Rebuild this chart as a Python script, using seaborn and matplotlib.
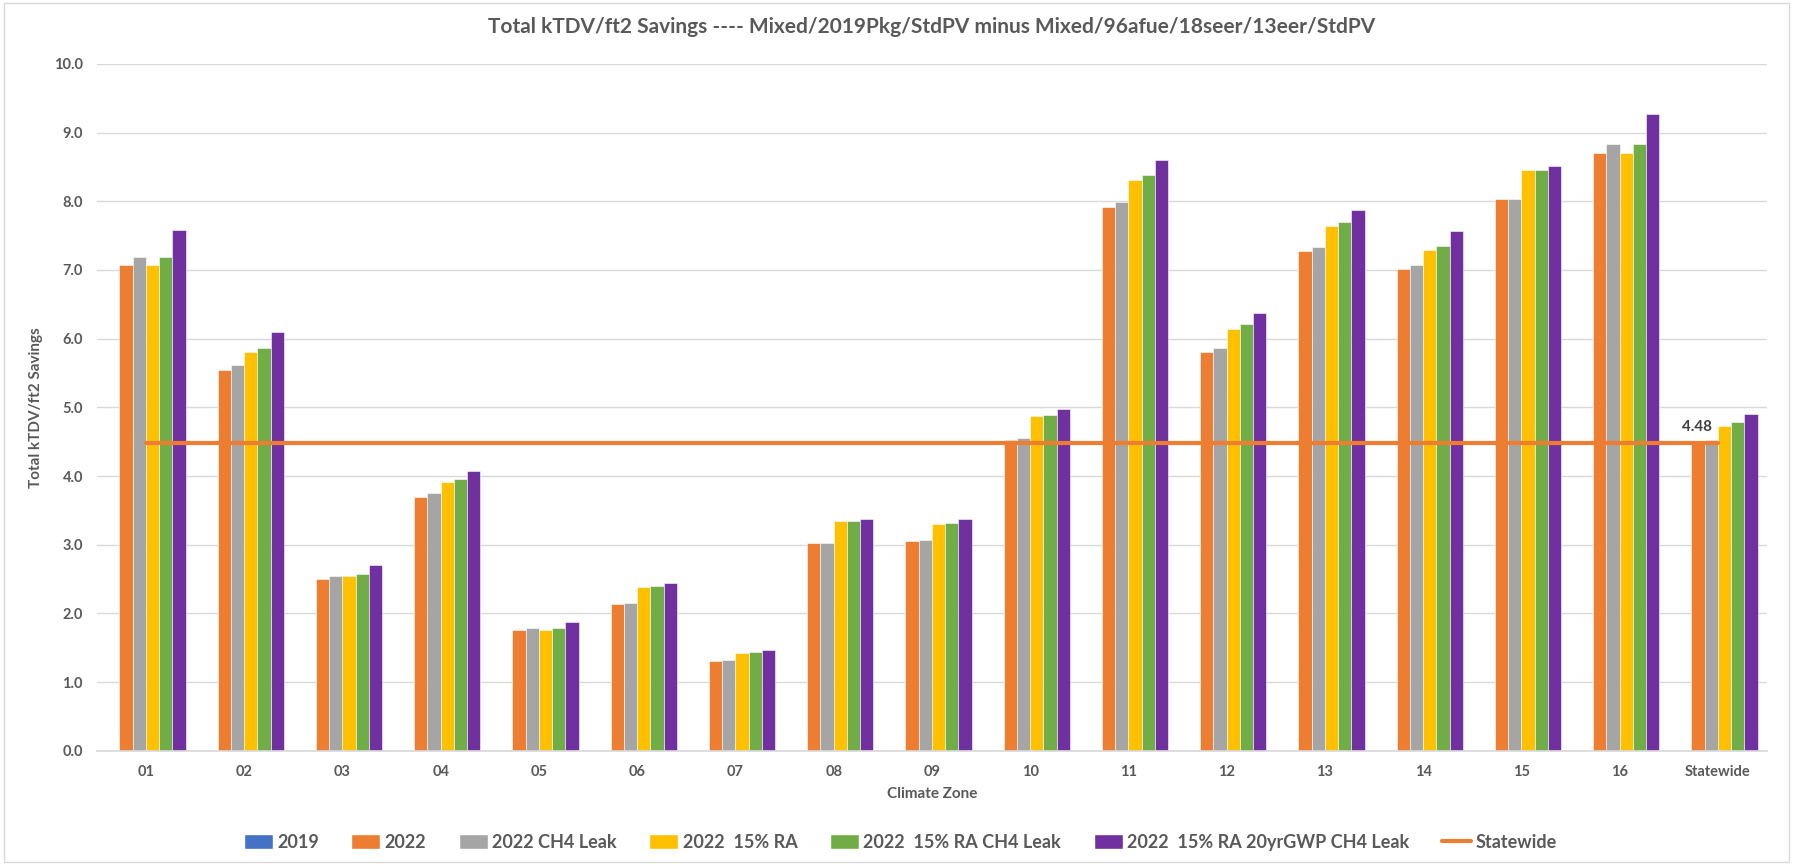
import numpy as np
import pandas as pd
import matplotlib
matplotlib.use("Agg")
import matplotlib.pyplot as plt
import seaborn as sns
from matplotlib.patches import Patch
from matplotlib.lines import Line2D

# ---------------- data ----------------
zones = ["01", "02", "03", "04", "05", "06", "07", "08", "09",
         "10", "11", "12", "13", "14", "15", "16", "Statewide"]

v_2019 = [0.0] * 17
v_2022 = [7.08, 5.55, 2.50, 3.70, 1.76, 2.14, 1.31, 3.02, 3.05,
          4.53, 7.92, 5.80, 7.28, 7.02, 8.03, 8.70, 4.48]
v_2022_ch4 = [7.19, 5.62, 2.54, 3.75, 1.79, 2.15, 1.32, 3.03, 3.07,
              4.55, 7.99, 5.86, 7.33, 7.08, 8.03, 8.83, 4.52]
v_2022_ra = [7.08, 5.80, 2.54, 3.92, 1.76, 2.39, 1.43, 3.34, 3.30,
             4.87, 8.31, 6.14, 7.64, 7.29, 8.46, 8.70, 4.73]
v_2022_ra_ch4 = [7.19, 5.87, 2.57, 3.96, 1.79, 2.40, 1.44, 3.35, 3.32,
                 4.89, 8.39, 6.21, 7.70, 7.35, 8.46, 8.83, 4.78]
v_2022_ra_gwp = [7.58, 6.10, 2.70, 4.07, 1.88, 2.45, 1.47, 3.38, 3.37,
                 4.98, 8.60, 6.38, 7.87, 7.57, 8.52, 9.27, 4.90]
statewide = 4.48

series_names = ["2019", "2022", "2022 CH4 Leak", "2022  15% RA",
                "2022  15% RA CH4 Leak", "2022  15% RA 20yrGWP CH4 Leak"]
series_values = [v_2019, v_2022, v_2022_ch4, v_2022_ra, v_2022_ra_ch4, v_2022_ra_gwp]
colors = ["#4472C4", "#ED7D31", "#A5A5A5", "#FFC000", "#70AD47", "#7030A0"]

df = pd.DataFrame([
    {"zone": z, "series": name, "value": val}
    for name, vals in zip(series_names, series_values)
    for z, val in zip(zones, vals)
])

# ---------------- plot ----------------
sns.set_theme(style="white")
plt.rcParams["font.family"] = ["Lato", "DejaVu Sans"]
text_col = "#595959"

fig = plt.figure(figsize=(17.93, 8.64), dpi=100)
ax = fig.add_axes([0.054, 0.131, 0.9315, 0.795])

sns.barplot(data=df, x="zone", y="value", hue="series", palette=colors,
            width=0.81, gap=0, legend=False, ax=ax, saturation=1,
            edgecolor="white", linewidth=0.4)

xs = np.arange(len(zones))
ax.plot(xs, [statewide] * len(zones), color="#ED7D31", lw=3, zorder=5)
ax.annotate(f"{statewide:.2f}", xy=(xs[-1], statewide), xytext=(-6, 9),
            textcoords="offset pixels", ha="right", va="bottom",
            fontsize=11, fontweight="bold", color="#404040")

ax.set_ylim(0, 10)
ax.set_xlim(-0.5, len(zones) - 0.5)
ax.set_yticks(np.arange(0, 10.01, 1.0))
ax.set_yticklabels([f"{t:.1f}" for t in np.arange(0, 10.01, 1.0)])
ax.grid(axis="y", color="#D9D9D9", lw=1)
ax.set_axisbelow(True)
for s in ["top", "right", "left"]:
    ax.spines[s].set_visible(False)
ax.spines["bottom"].set_color("#D9D9D9")
ax.tick_params(axis="both", length=0, labelsize=10.5, colors=text_col, pad=10)
for lab in ax.get_xticklabels() + ax.get_yticklabels():
    lab.set_fontweight("bold")

ax.set_xlabel("Climate Zone", fontsize=11, fontweight="bold", color=text_col, labelpad=6)
ax.set_ylabel("Total kTDV/ft2 Savings", fontsize=11, fontweight="bold", color=text_col, labelpad=8)
ax.set_title("Total kTDV/ft2 Savings ---- Mixed/2019Pkg/StdPV minus Mixed/96afue/18seer/13eer/StdPV",
             fontsize=15, fontweight="bold", color=text_col, pad=22)

handles = [Patch(facecolor=c, label=n) for c, n in zip(colors, series_names)]
handles.append(Line2D([0], [0], color="#ED7D31", lw=3, label="Statewide"))
fig.legend(handles=handles, loc="center", bbox_to_anchor=(0.502, 0.025), ncol=7,
           frameon=False, handlelength=1.6, handleheight=0.9,
           handletextpad=0.25, columnspacing=1.8, labelcolor=text_col,
           prop={"size": 13, "weight": "bold"})

fig.patches.append(plt.Rectangle((0.002, 0.002), 0.996, 0.994, transform=fig.transFigure,
                                 fill=False, edgecolor="#D9D9D9", lw=1))

fig.savefig("out.png", dpi=100)
